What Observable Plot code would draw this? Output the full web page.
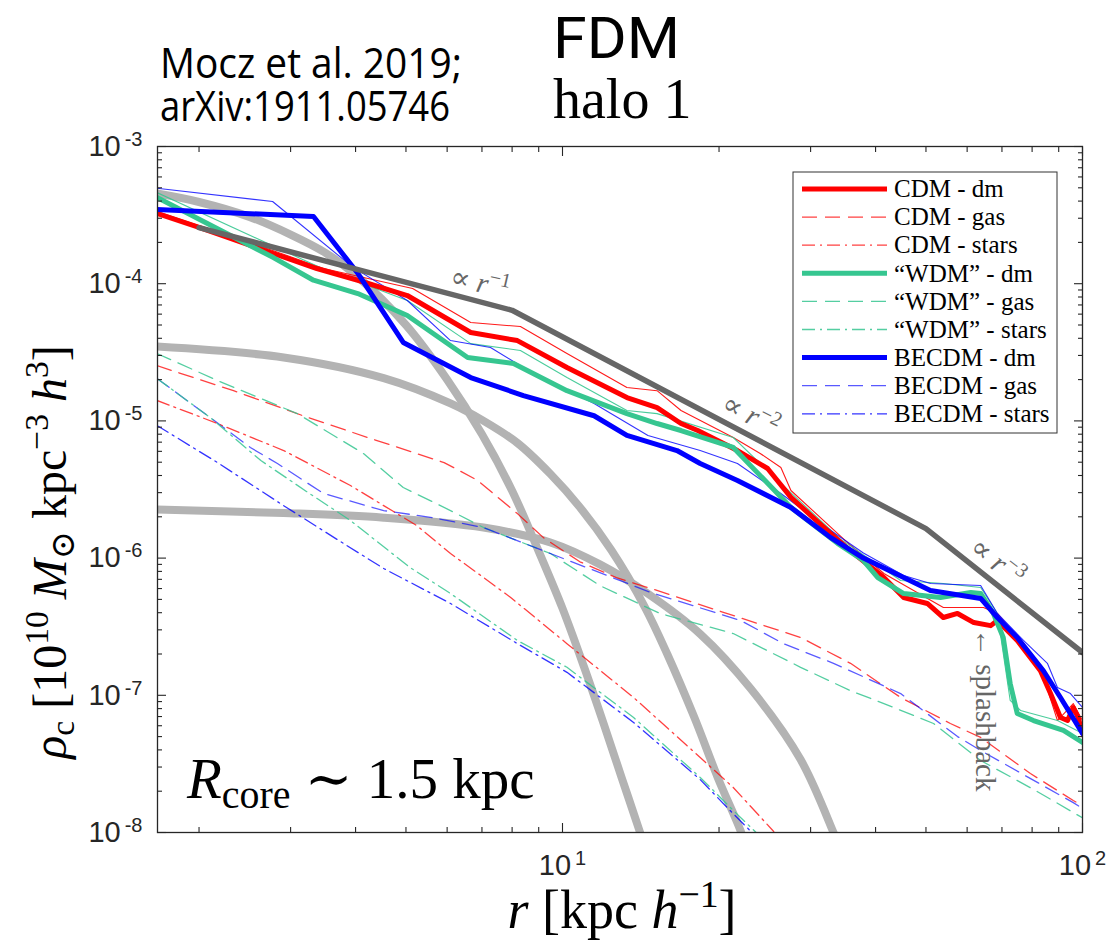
<!DOCTYPE html>
<html>
<head>
<meta charset="utf-8">
<script src="https://cdn.jsdelivr.net/npm/d3@7"></script>
<script src="https://cdn.jsdelivr.net/npm/@observablehq/plot@0.6"></script>
<style>
html,body{margin:0;padding:0;background:#fff;}
#chart{width:1112px;height:947px;}
</style>
</head>
<body>
<div id="chart"></div>
<script>
// ---------------- data (r [kpc/h], rho) ----------------
const powerLaw = [[2, 2.56e-4], [8, 6.4e-5], [50, 1.64e-6], [100, 2.05e-7]];

const soliton1 = [[1.66,4.54e-4],[2.0,3.94e-4],[2.5,3.07e-4],[3.0,2.28e-4],[3.5,1.68e-4],[4.0,1.16e-4],[5.0,5.0e-5],[6.0,2.0e-5],[7.0,8.0e-6],[8.0,3.1e-6],[9.0,1.12e-6],[10,4.3e-7],[11,1.61e-7],[12,6.2e-8],[13,2.5e-8],[14.1,1.0e-8],[14.6,6.6e-9]];
const soliton2 = [[1.66,3.48e-5],[2.91,2.90e-5],[4.53,2.05e-5],[6.09,1.34e-5],[7.05,1.0e-5],[8.19,6.9e-6],[9.48,4.1e-6],[10.8,2.35e-6],[12.4,1.15e-6],[14.4,4.4e-7],[15.9,2.0e-7],[17.9,7.0e-8],[19.9,2.5e-8],[22.0,1.03e-8],[22.6,7.5e-9]];
const soliton3 = [[1.66,2.26e-6],[2.91,2.13e-6],[4.53,1.97e-6],[7.05,1.67e-6],[9.48,1.30e-6],[11.8,9.0e-7],[14.6,5.5e-7],[18.4,2.8e-7],[23.0,1.12e-7],[28.7,3.4e-8],[33.2,1.0e-8],[34.0,8.0e-9]];

const cdmDm = [[1.66,3.25e-4],[2.0,2.57e-4],[2.78,1.66e-4],[3.37,1.29e-4],[4.04,1.06e-4],[5.03,8.2e-5],[6.66,4.41e-5],[8.19,3.85e-5],[10.2,2.45e-5],[13.3,1.48e-5],[15.2,1.25e-5],[16.9,9.57e-6],[18.2,8.51e-6],[21.7,6.08e-6],[24.8,4.5e-6],[27.5,2.77e-6],[32.8,1.51e-6],[35.8,1.13e-6],[41.5,7.22e-7],[45.3,5.16e-7],[50.3,4.67e-7],[54.0,3.69e-7],[57.5,3.95e-7],[61.8,3.39e-7],[66.6,3.22e-7],[68.6,3.51e-7],[74.9,2.51e-7],[83.0,1.51e-7],[86.8,1.03e-7],[90.7,6.89e-8],[93.6,6.55e-8],[96.0,8.15e-8],[98.1,6.89e-8],[100,5.27e-8]];
const cdmThin = [[1.66,3.36e-4],[2.78,1.74e-4],[3.47,1.29e-4],[5.15,9.23e-5],[6.66,5.21e-5],[8.30,4.87e-5],[10.2,3.10e-5],[13.3,1.75e-5],[15.2,1.66e-5],[16.9,1.19e-5],[21.3,7.57e-6],[24.0,5.79e-6],[26.3,4.58e-6],[27.5,3.11e-6],[35.8,1.24e-6],[41.5,7.72e-7],[54.0,4.36e-7],[64.5,4.36e-7],[68.6,3.95e-7],[74.9,2.64e-7],[83.0,1.6e-7],[89.5,6.55e-8],[96.0,8.71e-8],[100,6.55e-8]];
const cdmGas = [[1.66,2.53e-5],[2.33,1.66e-5],[3.17,1.09e-5],[4.22,7.57e-6],[5.92,4.97e-6],[6.87,3.68e-6],[8.19,2.11e-6],[9.19,1.41e-6],[10.8,9.4e-7],[12.7,7.2e-7],[14.8,6.0e-7],[19.9,4.15e-7],[28.7,2.64e-7],[35.8,1.71e-7],[44.7,9.64e-8],[55.7,6.23e-8],[63.7,4.93e-8],[79.4,2.69e-8],[96.0,1.71e-8],[100,1.57e-8]];
const cdmStars = [[1.66,1.41e-5],[2.17,9.57e-6],[2.91,6.08e-6],[3.91,3.38e-6],[5.24,1.73e-6],[6.09,1.08e-6],[7.05,7.22e-7],[7.95,5.16e-7],[10.2,2.38e-7],[13.7,9.64e-8],[18.4,3.52e-8],[21.3,2.13e-8],[25.4,1.03e-8],[26.3,8.5e-9]];

const wdmDm = [[1.66,4.25e-4],[2.78,1.55e-4],[3.32,1.06e-4],[4.04,8.48e-5],[5.03,5.86e-5],[6.57,2.90e-5],[8.05,2.62e-5],[10.2,1.66e-5],[13.3,1.13e-5],[15.2,9.57e-6],[16.9,8.51e-6],[21.3,6.40e-6],[23.0,4.72e-6],[27.5,2.34e-6],[33.8,1.28e-6],[37.9,9.6e-7],[40.4,7.22e-7],[45.3,5.52e-7],[53.3,5.16e-7],[61.0,5.61e-7],[63.7,5.52e-7],[67.4,3.95e-7],[70.4,2.64e-7],[72.6,1.22e-7],[74.9,7.37e-8],[80.5,6.55e-8],[91.9,5.54e-8],[100,4.53e-8]];
const wdmThin = [[1.66,4.62e-4],[3.42,1.31e-4],[5.03,7.54e-5],[6.66,3.66e-5],[8.30,3.26e-5],[10.2,2.07e-5],[13.3,1.19e-5],[15.2,1.13e-5],[21.3,7.57e-6],[26.3,3.5e-6],[34.2,1.38e-6],[44.7,6.87e-7],[54.0,6.53e-7],[63.7,6.1e-7],[68.6,3.95e-7],[72.6,9.17e-8],[76.0,7.75e-8],[89.5,6.55e-8],[100,5.27e-8]];
const wdmGas = [[1.66,3.10e-5],[2.17,1.97e-5],[3.09,1.13e-5],[4.14,5.79e-6],[4.94,3.27e-6],[6.09,2.22e-6],[7.05,1.67e-6],[9.48,1.08e-6],[11.8,6.3e-7],[15.4,3.95e-7],[21.3,2.82e-7],[28.7,1.6e-7],[35.8,1.08e-7],[41.5,8.71e-8],[51.7,6.23e-8],[63.7,3.35e-8],[80.5,2.06e-8],[100,1.28e-8]];
const wdmStars = [[1.66,2.04e-5],[2.10,1.06e-5],[2.63,5.14e-6],[3.26,2.96e-6],[3.91,1.88e-6],[5.09,8.54e-7],[6.09,5.52e-7],[8.19,2.51e-7],[10.2,1.60e-7],[13.7,6.89e-8],[18.4,2.52e-8],[21.3,1.45e-8],[23.7,9.8e-9],[24.2,8.5e-9]];

const becdmDm = [[1.66,3.47e-4],[3.32,3.09e-4],[4.04,1.19e-4],[4.94,3.73e-5],[6.66,2.07e-5],[8.41,1.53e-5],[11.5,1.09e-5],[13.3,7.83e-6],[16.6,6.08e-6],[18.4,4.89e-6],[21.7,3.68e-6],[27.5,2.34e-6],[32.8,1.41e-6],[37.9,1.0e-6],[45.3,7.22e-7],[51.0,5.8e-7],[63.7,5.08e-7],[68.6,3.69e-7],[74.9,2.64e-7],[84.1,1.51e-7],[90.7,9.64e-8],[100,5.27e-8]];
const becdmThin = [[1.66,4.96e-4],[2.77,3.97e-4],[3.96,1.31e-4],[5.03,7.54e-5],[6.09,3.85e-5],[7.27,3.43e-5],[8.41,2.45e-5],[11.5,1.34e-5],[14.6,7.83e-6],[18.4,6.08e-6],[21.7,4.89e-6],[26.3,2.96e-6],[32.8,1.59e-6],[37.9,1.09e-6],[45.3,7.47e-7],[51.0,6.53e-7],[63.7,6.31e-7],[68.6,3.95e-7],[77.0,2.51e-7],[85.6,1.71e-7],[89.5,1.14e-7],[94.8,1.03e-7],[100,8.15e-8]];
const becdmGas = [[1.66,2.04e-5],[2.10,1.06e-5],[2.51,6.4e-6],[2.83,4.89e-6],[3.47,2.96e-6],[4.53,2.22e-6],[5.64,1.97e-6],[7.05,1.67e-6],[9.48,1.08e-6],[14.8,5.61e-7],[22.0,3.51e-7],[26.6,2.38e-7],[33.2,1.71e-7],[44.7,1.03e-7],[57.5,5.0e-8],[63.7,3.96e-8],[96.0,1.65e-8],[100,1.5e-8]];
const becdmStars = [[1.66,9.26e-6],[2.17,4.97e-6],[2.91,2.41e-6],[3.79,1.28e-6],[4.53,8.40e-7],[6.09,4.67e-7],[8.19,2.38e-7],[10.2,1.47e-7],[13.7,6.34e-8],[18.4,2.43e-8],[21.3,1.37e-8],[24.0,8.7e-9]];

// axis ticks
const majorX = [10, 100];
const minorX = [2,3,4,5,6,7,8,9,20,30,40,50,60,70,80,90];
const majorY = [1e-8,1e-7,1e-6,1e-5,1e-4,1e-3];
const minorMant = [2,3,4,5,6,7,8,9];
const minorDecades = [1e-8,1e-7,1e-6,1e-5,1e-4];
const minorY = minorDecades.flatMap(d => minorMant.map(m => m * d));

// legend
const legendLabels = ["CDM - dm","CDM - gas","CDM - stars","\u201CWDM\u201D - dm","\u201CWDM\u201D - gas","\u201CWDM\u201D - stars","BECDM - dm","BECDM - gas","BECDM - stars"];

// annotations
const slopeLabels = ["\u22121","\u22122","\u22123"];
const slopeR = [6.96, 23.1, 68.9];
const slopeRho = [1.02e-4, 1.11e-5, 9.44e-7];
const slopeRot = [13, 27, 38];

// ---------------- styles ----------------
const RED = "#ff0000", GREEN = "#36c690", BLUE = "#0000ff";
const DASH = "15,8", DASHDOT = "13,5,2,5";
const mk = (stroke, w, dash, op, curve) => ({stroke, w, dash, op, curve: curve || "linear"});
const S = {
  sol: mk("#b3b3b3", 8, null, 1, "catmull-rom"), pow: mk("#666666", 5.5, null, 1),
  cdmDm: mk(RED,5,null,1), cdmGas: mk(RED,1.3,DASH,0.75), cdmStars: mk(RED,1.3,DASHDOT,0.75),
  wdmDm: mk(GREEN,5,null,1), wdmGas: mk(GREEN,1.3,DASH,0.85), wdmStars: mk(GREEN,1.3,DASHDOT,0.85),
  becdmDm: mk(BLUE,5,null,1), becdmGas: mk(BLUE,1.3,DASH,0.65), becdmStars: mk(BLUE,1.3,DASHDOT,0.8),
  thinR: mk(RED,1.1,null,0.9), thinG: mk(GREEN,1.1,null,0.9), thinB: mk(BLUE,1.1,null,0.8)
};
const layers = [
  [soliton1, S.sol],[soliton2, S.sol],[soliton3, S.sol],
  [cdmGas, S.cdmGas],[wdmGas, S.wdmGas],[becdmGas, S.becdmGas],
  [cdmStars, S.cdmStars],[wdmStars, S.wdmStars],[becdmStars, S.becdmStars],
  [cdmThin, S.thinR],[wdmThin, S.thinG],[becdmThin, S.thinB],
  [cdmDm, S.cdmDm],[wdmDm, S.wdmDm],[becdmDm, S.becdmDm],
  [powerLaw, S.pow]
];
const legendStyles = [S.cdmDm,S.cdmGas,S.cdmStars,S.wdmDm,S.wdmGas,S.wdmStars,S.becdmDm,S.becdmGas,S.becdmStars];

const lineMarks = layers.map(([data, s]) => Plot.line(data, {
  x: d => d[0], y: d => d[1], stroke: s.stroke, strokeWidth: s.w, curve: s.curve,
  strokeDasharray: s.dash, strokeOpacity: s.op, strokeLinejoin: "round", clip: true
}));

const expFmt = d => "10^" + Math.round(Math.log10(d));
const blank = () => "";
const tk = {stroke: "#262626", strokeWidth: 1.1, label: null, tickFormat: blank};

const plot = Plot.plot({
  width: 1112, height: 947,
  marginLeft: 157, marginRight: 30, marginTop: 146, marginBottom: 115,
  style: {background: "white", fontFamily: "'Liberation Sans', Arial, sans-serif", fontSize: "29px", color: "#262626", overflow: "visible"},
  x: {type: "log", domain: [1.664, 100]},
  y: {type: "log", domain: [1e-8, 1e-3]},
  marks: [
    ...lineMarks,
    Plot.axisX(majorX, {anchor: "bottom", tickSize: 0, tickPadding: 22, tickFormat: expFmt, label: null, fill: "#262626", fontSize: 29}),
    Plot.axisY(majorY, {anchor: "left", tickSize: 0, tickPadding: 15, tickFormat: expFmt, label: null, fill: "#262626", fontSize: 29}),
    Plot.axisX(majorX, {anchor: "bottom", tickSize: -9, ...tk}),
    Plot.axisX(majorX, {anchor: "top", tickSize: -9, ...tk}),
    Plot.axisX(minorX, {anchor: "bottom", tickSize: -5, ...tk}),
    Plot.axisX(minorX, {anchor: "top", tickSize: -5, ...tk}),
    Plot.axisY(majorY, {anchor: "left", tickSize: -9, ...tk}),
    Plot.axisY(majorY, {anchor: "right", tickSize: -9, ...tk}),
    Plot.axisY(minorY, {anchor: "left", tickSize: -5, ...tk}),
    Plot.axisY(minorY, {anchor: "right", tickSize: -5, ...tk}),
    Plot.frame({stroke: "#262626", strokeWidth: 1.3})
  ]
});
document.getElementById("chart").appendChild(plot);

const NS = "http://www.w3.org/2000/svg";
// superscript tick labels
plot.querySelectorAll("text").forEach(t => {
  const m = t.textContent.match(/^10\^(-?\d+)$/);
  if (m) {
    t.textContent = "10";
    t.setAttribute("font-size", "29");
    t.style.fontSize = "29px";
    const ts = document.createElementNS(NS, "tspan");
    ts.setAttribute("dy", "-0.5em");
    ts.setAttribute("dx", "4");
    ts.style.fontSize = "20px";
    ts.textContent = m[1];
    t.appendChild(ts);
  }
});

const svg = d3.select(plot);
const sx = plot.scale("x"), sy = plot.scale("y");
const SERIF = "'Liberation Serif', 'DejaVu Serif', serif";

function rich(sel, parts) {
  parts.forEach(([txt, kind]) => {
    const ts = sel.append("tspan").text(txt);
    if (kind === "i") ts.attr("font-style", "italic");
    if (kind === "sup") ts.attr("baseline-shift", "super").attr("font-size", "70%");
    if (kind === "sub") ts.attr("baseline-shift", "-0.25em").attr("font-size", "70%");
  });
}
const txt = (x, y, family, size) => svg.append("text").attr("x", x).attr("y", y)
  .attr("font-family", family).attr("font-size", size).attr("fill", "#000").attr("text-anchor", "start");

// titles
txt(160, 78, "'Open Sans', sans-serif", 42).attr("textLength", 302).attr("lengthAdjust", "spacingAndGlyphs").text("Mocz et al. 2019;");
txt(160, 121, "'Open Sans', sans-serif", 42).attr("textLength", 290).attr("lengthAdjust", "spacingAndGlyphs").text("arXiv:1911.05746");
txt(553, 58, "Roboto, 'Open Sans', sans-serif", 58).attr("textLength", 127).attr("lengthAdjust", "spacingAndGlyphs").text("FDM");
txt(553, 118, SERIF, 56).text("halo 1");

// axis labels
rich(svg.append("text").attr("transform", "translate(66,552) rotate(-90)").attr("text-anchor", "middle")
  .attr("font-family", SERIF).attr("font-size", 48).attr("fill", "#000"),
  [["\u03C1","i"],["c","sub"],[" [10","n"],["10","sup"],[" M","i"],["\u2299","sub"],[" kpc","n"],["\u22123","sup"],[" h","i"],["3","sup"],["]","n"]]);
rich(svg.append("text").attr("x", 622).attr("y", 928).attr("text-anchor", "middle")
  .attr("font-family", SERIF).attr("font-size", 54).attr("fill", "#000"),
  [["r","i"],[" [kpc ","n"],["h","i"],["\u22121","sup"],["]","n"]]);

// slope annotations
slopeLabels.forEach((lab, i) => {
  const t = svg.append("text")
    .attr("transform", `translate(${sx.apply(slopeR[i])},${sy.apply(slopeRho[i])}) rotate(${slopeRot[i]})`)
    .attr("text-anchor", "middle").attr("dy", "0.35em")
    .attr("font-family", SERIF).attr("font-size", 29).attr("fill", "#666");
  rich(t, [["\u221D ","n"],["r","i"],[lab,"sup"]]);
});

// splashback
svg.append("text").attr("transform", `translate(${sx.apply(62.5)},${sy.apply(3.07e-7)}) rotate(90)`)
  .attr("text-anchor", "start").attr("font-family", SERIF).attr("font-size", 29).attr("fill", "#666").text("\u2190 splashback");

// R_core
rich(txt(sx.apply(1.90), sy.apply(1.77e-8), SERIF, 57),
  [["R","i"],["core","sub"],[" \u223C 1.5 kpc","n"]]);

// legend
const lg = svg.append("g");
lg.append("rect").attr("x", 793).attr("y", 172).attr("width", 264).attr("height", 261)
  .attr("fill", "white").attr("stroke", "#333").attr("stroke-width", 1);
legendLabels.forEach((lab, i) => {
  const y = 189 + i * 28.1, s = legendStyles[i];
  lg.append("line").attr("x1", 802).attr("x2", 887).attr("y1", y).attr("y2", y)
    .attr("stroke", s.stroke).attr("stroke-width", s.w).attr("stroke-opacity", s.op)
    .attr("stroke-dasharray", s.dash);
  lg.append("text").attr("x", 894).attr("y", y).attr("dy", "0.33em").attr("text-anchor", "start")
    .attr("font-family", SERIF).attr("font-size", 25).attr("fill", "#000").text(lab);
});
</script>
</body>
</html>
